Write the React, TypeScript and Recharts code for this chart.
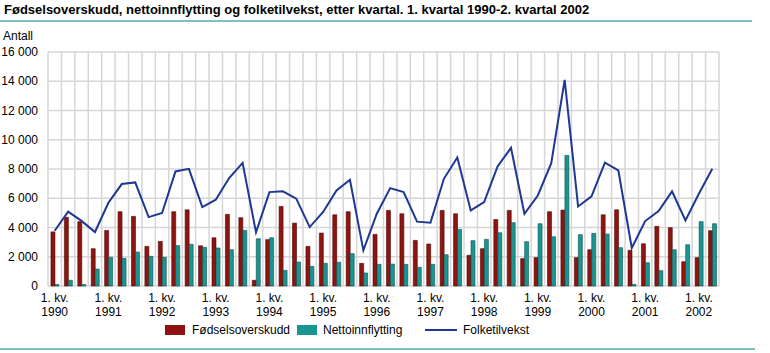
// Fødselsoverskudd, nettoinnflytting og folketilvekst per kvartal 1990–2002
import { Bar, Line, XAxis, YAxis, CartesianGrid, ComposedChart } from "recharts";

const YEARS = ["1990", "1991", "1992", "1993", "1994", "1995", "1996", "1997", "1998", "1999", "2000", "2001", "2002"];

const QUARTERS = YEARS.flatMap((y) => ["1", "2", "3", "4"].map((q) => `${y}K${q}`)).slice(0, 50);

const FODSELSOVERSKUDD = [
  3700, 4700, 4400, 2550, 3800, 5080, 4760, 2710, 3050, 5080, 5210, 2750, 3300, 4900, 4670, 390,
  3170, 5440, 4300, 2710, 3620, 4870, 5080, 1550, 3530, 5170, 4940, 3120, 2870, 5170, 4940, 2100,
  2550, 4550, 5170, 1870, 1940, 5080, 5190, 1940, 2480, 4870, 5210, 2440, 2890, 4080, 3990, 1660,
  1940, 3780,
];

const NETTOINNFLYTTING = [
  100, 390, 100, 1160, 1960, 1890, 2320, 2030, 1960, 2760, 2850, 2640, 2600, 2480, 3800, 3230,
  3300, 1070, 1640, 1340, 1550, 1620, 2210, 890, 1480, 1500, 1480, 1280, 1480, 2140, 3870, 3100,
  3190, 3640, 4330, 3030, 4260, 3370, 8930, 3510, 3600, 3550, 2620, 110, 1590, 1050, 2480, 2820,
  4400, 4260,
];

const FOLKETILVEKST = [
  3780, 5080, 4450, 3690, 5690, 6970, 7080, 4710, 4990, 7830, 8010, 5400, 5900, 7380, 8420, 3670,
  6420, 6470, 5970, 4030, 5060, 6540, 7260, 2440, 4940, 6690, 6420, 4400, 4330, 7330, 8790, 5170,
  5740, 8170, 9450, 4940, 6190, 8400, 14100, 5440, 6130, 8430, 7900, 2600, 4440, 5120, 6470, 4490,
  6310, 8020,
];

const Y_TICKS = [0, 2000, 4000, 6000, 8000, 10000, 12000, 14000, 16000];

const RED = "#8f140f";
const TEAL = "#1a9692";
const BLUE = "#1f3794";
const GRID = "#d6d6d6";
const FONT = "'Liberation Sans', Arial, sans-serif";

const data = QUARTERS.map((q, i) => ({
  q,
  fodsel: FODSELSOVERSKUDD[i],
  netto: NETTOINNFLYTTING[i],
  total: FOLKETILVEKST[i],
}));

const fmt = (v: number) => String(v).replace(/\B(?=(\d{3})+(?!\d))/g, " ");

function QuarterTick(props: any) {
  const { x, y, payload } = props;
  const [year, q] = String(payload.value).split("K");
  if (q !== "1") return null;
  return (
    <g>
      <text x={x} y={y + 8} textAnchor="middle" fontSize={12} fill="#000" fontFamily={FONT}>
        1. kv.
      </text>
      <text x={x} y={y + 22} textAnchor="middle" fontSize={12} fill="#000" fontFamily={FONT}>
        {year}
      </text>
    </g>
  );
}

function ValueTick(props: any) {
  const { x, y, payload } = props;
  return (
    <text x={x} y={y + 4} textAnchor="end" fontSize={12} fill="#000" fontFamily={FONT}>
      {fmt(payload.value)}
    </text>
  );
}

function LegendBox() {
  const item = { display: "flex", alignItems: "center", fontSize: 12, fontFamily: FONT, color: "#000" };
  return (
    <div style={{ position: "absolute", left: 0, top: 323, display: "flex", paddingLeft: 165 }}>
      <div style={{ ...item, width: 132 }}>
        <span style={{ width: 20, height: 10, background: RED, marginRight: 7, display: "inline-block" }} />
        Fødselsoverskudd
      </div>
      <div style={{ ...item, width: 128 }}>
        <span style={{ width: 20, height: 10, background: TEAL, marginRight: 6, display: "inline-block" }} />
        Nettoinnflytting
      </div>
      <div style={item}>
        <span style={{ width: 32, height: 2, background: BLUE, marginRight: 6, display: "inline-block" }} />
        Folketilvekst
      </div>
    </div>
  );
}

export default function App() {
  return (
    <div style={{ position: "absolute", left: 0, top: 0, width: 770, height: 353, background: "#fff", fontFamily: FONT }}>
      <div style={{ position: "absolute", left: 4, top: 2, fontSize: 13, fontWeight: "bold", whiteSpace: "nowrap" }}>
        Fødselsoverskudd, nettoinnflytting og folketilvekst, etter kvartal. 1. kvartal 1990-2. kvartal 2002
      </div>
      <div style={{ position: "absolute", left: 0, top: 20, width: 752, height: 2, background: "#7cc2c0" }} />
      <div style={{ position: "absolute", left: 3, top: 29, fontSize: 12 }}>Antall</div>
      <div style={{ position: "absolute", left: 0, top: 348, width: 755, height: 2, background: "#7cc2c0" }} />
      <div style={{ position: "absolute", left: 0, top: 0 }}>
        <ComposedChart
          width={770}
          height={353}
          data={data}
          margin={{ top: 52, right: 51, left: 0, bottom: 27 }}
          barGap={0}
          barCategoryGap="22%"
        >
          <CartesianGrid
            stroke={GRID}
            strokeWidth={1.5}
            verticalCoordinatesGenerator={({ offset }: any) =>
              Array.from({ length: QUARTERS.length + 1 }, (_, i) => offset.left + (i * offset.width) / QUARTERS.length)
            }
          />
          <XAxis
            dataKey="q"
            interval={0}
            tick={<QuarterTick />}
            tickLine={false}
            axisLine={false}
            height={40}
          />
          <YAxis
            domain={[0, 16000]}
            ticks={Y_TICKS}
            tick={<ValueTick />}
            axisLine={false}
            tickLine={false}
            tickMargin={4}
            width={48}
          />
          <Bar dataKey="fodsel" name="Fødselsoverskudd" fill={RED} stroke="#4a0806" strokeWidth={0.6} isAnimationActive={false} />
          <Bar dataKey="netto" name="Nettoinnflytting" fill={TEAL} stroke="#0c4f4c" strokeWidth={0.6} isAnimationActive={false} />
          <Line
            type="linear"
            dataKey="total"
            name="Folketilvekst"
            stroke={BLUE}
            strokeWidth={2}
            dot={false}
            activeDot={false}
            isAnimationActive={false}
          />
        </ComposedChart>
      </div>
      <LegendBox />
    </div>
  );
}
